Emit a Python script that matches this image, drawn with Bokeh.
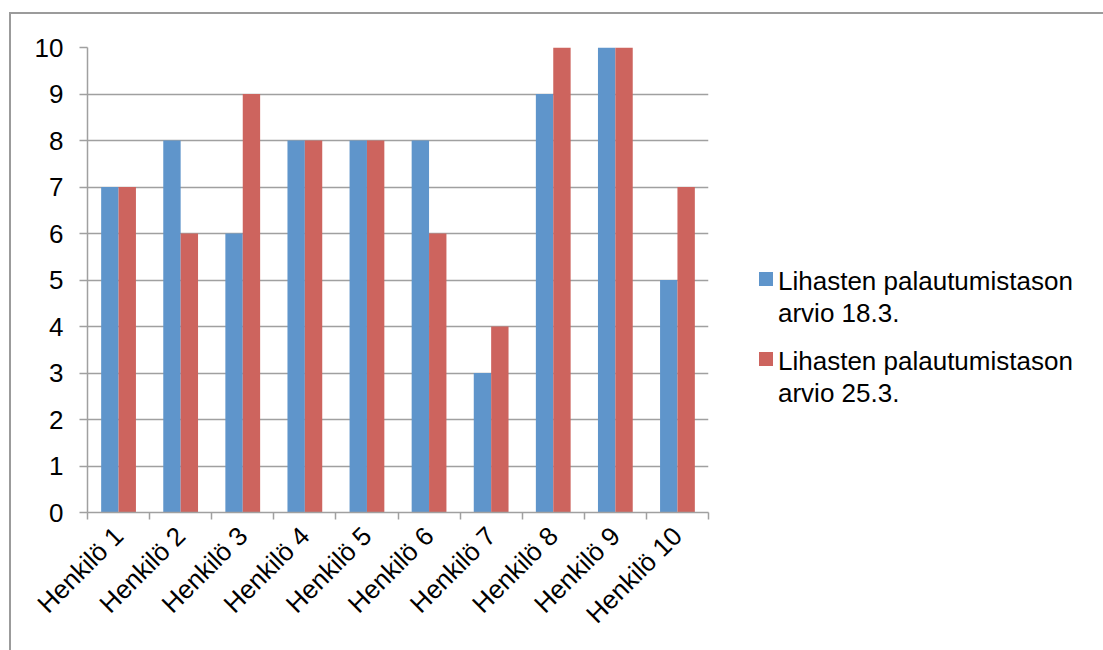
import numpy as np
from bokeh.plotting import figure
from bokeh.layouts import row
from bokeh.models import ColumnDataSource, FixedTicker, Range1d, Div
from bokeh.transform import dodge
from bokeh.embed import file_html
from bokeh.resources import INLINE

# Data
persons = ["Henkilö 1", "Henkilö 2", "Henkilö 3", "Henkilö 4", "Henkilö 5",
           "Henkilö 6", "Henkilö 7", "Henkilö 8", "Henkilö 9", "Henkilö 10"]
arvio_18_3 = [7, 8, 6, 8, 8, 8, 3, 9, 10, 5]
arvio_25_3 = [7, 6, 9, 8, 8, 6, 4, 10, 10, 7]
series_labels = [["Lihasten palautumistason", "arvio 18.3."],
                 ["Lihasten palautumistason", "arvio 25.3."]]
y_ticks = list(range(0, 11))

BLUE = "#5f95cb"
RED = "#cd645e"
GRAY = "#a0a0a0"
FONT = "Liberation Sans"
FS = "26px"

# each person occupies one unit on the x axis; bars sit around the centre
centres = [i + 0.5 for i in range(len(persons))]
bounds = list(range(len(persons) + 1))
src = ColumnDataSource(dict(x=centres, a=arvio_18_3, b=arvio_25_3))

p = figure(width=729, height=636,
           x_range=Range1d(0, len(persons)), y_range=Range1d(0, 10),
           output_backend="svg", toolbar_location=None,
           min_border_left=76, min_border_top=33,
           min_border_right=32, min_border_bottom=138)
p.outline_line_color = None
p.background_fill_color = "white"
p.border_fill_color = "white"

p.vbar(x=dodge("x", -0.14, range=p.x_range), top="a", width=0.28,
       source=src, fill_color=BLUE, line_color=None)
p.vbar(x=dodge("x", 0.14, range=p.x_range), top="b", width=0.28,
       source=src, fill_color=RED, line_color=None)

# x axis: names at the centres, tick marks on the category boundaries
xa = p.xaxis[0]
xa.ticker = FixedTicker(ticks=centres, minor_ticks=bounds)
xa.major_label_overrides = {c: name for c, name in zip(centres, persons)}
xa.major_label_orientation = np.pi / 4
xa.major_tick_in = 0
xa.major_tick_out = 0
xa.minor_tick_in = 0
xa.minor_tick_out = 7
xa.minor_tick_line_color = GRAY
xa.minor_tick_line_width = 1.5
xa.axis_line_color = GRAY
xa.axis_line_width = 1.5
xa.major_label_text_font = FONT
xa.major_label_text_font_size = FS
xa.major_label_text_color = "black"
xa.major_label_standoff = 12

ya = p.yaxis[0]
ya.ticker = FixedTicker(ticks=y_ticks)
ya.major_tick_in = 0
ya.major_tick_out = 8
ya.major_tick_line_color = GRAY
ya.major_tick_line_width = 1.5
ya.minor_tick_line_color = None
ya.axis_line_color = GRAY
ya.axis_line_width = 1.5
ya.major_label_text_font = FONT
ya.major_label_text_font_size = FS
ya.major_label_text_color = "black"
ya.major_label_standoff = 16

p.xgrid.grid_line_color = None
p.ygrid.grid_line_color = GRAY
p.ygrid.grid_line_width = 1.5

# legend beside the chart: a coloured square aligned with the first label line
def legend_item(color, lines, gap):
    return (
        f'<div style="display:flex;align-items:flex-start;margin-bottom:{gap}px;">'
        f'<span style="display:inline-block;width:14px;height:14px;background:{color};'
        f'margin-top:7px;margin-right:5px;flex:none;"></span>'
        f'<span>{"<br>".join(lines)}</span></div>'
    )

legend_html = (
    f'<div style="padding-top:246px;padding-left:14px;font-family:\'{FONT}\';'
    f'font-size:{FS};line-height:32px;color:black;white-space:nowrap;">'
    + legend_item(BLUE, series_labels[0], 16)
    + legend_item(RED, series_labels[1], 0)
    + '</div>'
)
legend_div = Div(text=legend_html, width=363, height=636)

layout = row(p, legend_div, margin=(12, 0, 0, 9),
             styles={"border-left": "2px solid #9b9b9b",
                     "border-top": "2px solid #9b9b9b",
                     "background": "white"})

open("out.html", "w").write(file_html(layout, INLINE))
